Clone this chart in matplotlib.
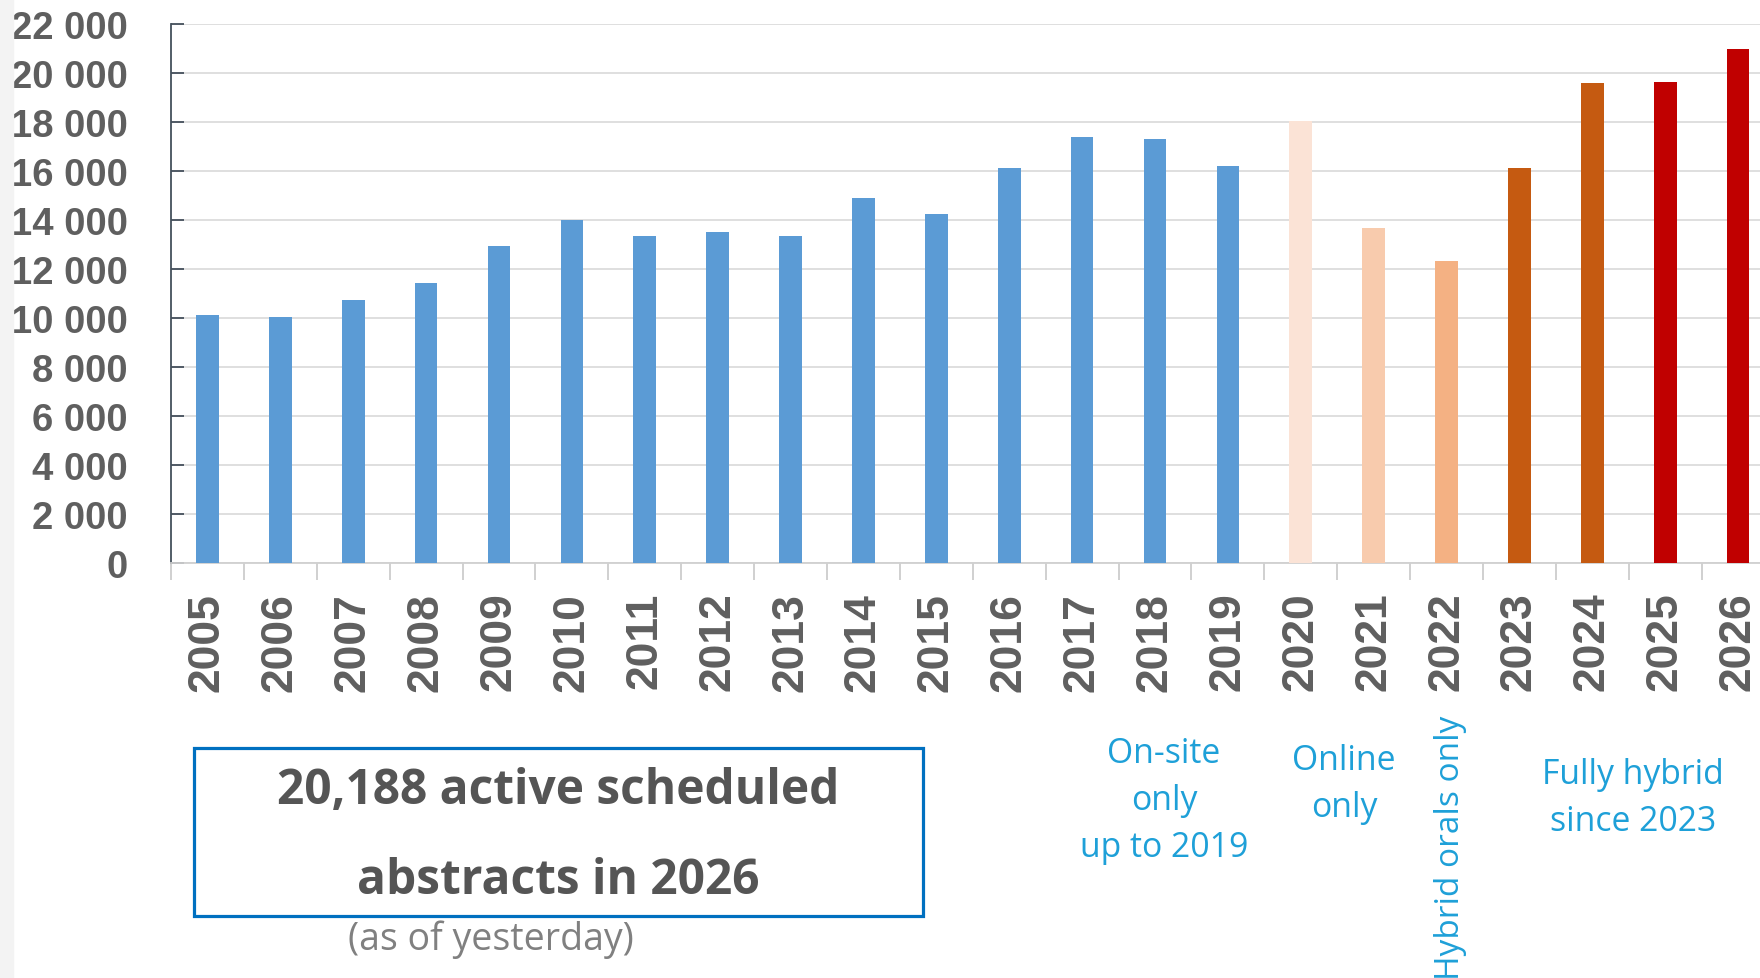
import matplotlib.pyplot as plt
from matplotlib.patches import Rectangle
from matplotlib.ticker import FuncFormatter

years = [str(y) for y in range(2005, 2027)]
abstracts = [10110, 10020, 10700, 11410, 12940, 13990, 13320, 13510, 13320,
             14870, 14220, 16100, 17360, 17280, 16180,
             18020, 13670, 12310, 16090, 19580, 19620, 20950]

# colours per year: on-site (blue), 2020-2022 (peach shades), hybrid (orange, red)
bar_colors = ['#5b9bd5'] * 15 + ['#fbe3d6', '#f8cbad', '#f4b183',
                                 '#c55a11', '#c55a11', '#c00000', '#c00000']

W, H = 1760, 979
fig = plt.figure(figsize=(W / 100, H / 100), dpi=100)
fig.patches.append(Rectangle((0, 0), 13 / W, 1, transform=fig.transFigure,
                             color='#f3f3f3', zorder=0))

ax = fig.add_axes([171 / W, 1 - 563.5 / H, 1 - 171 / W, (563.5 - 24.7) / H])
x = list(range(len(years)))
ax.bar(x, abstracts, width=0.31, color=bar_colors, zorder=3)

ax.set_yticks(range(0, 22001, 2000))
ax.yaxis.set_major_formatter(FuncFormatter(lambda v, p: f'{int(v):,}'.replace(',', ' ')))
ax.set_xticks(x)
ax.set_xticklabels(years)
ax.set_xticks([i - 0.5 for i in range(len(years) + 1)], minor=True)
ax.set_ylim(0, 22000)
ax.set_xlim(-0.5, 21.3)

ax.grid(axis='y', color='#d9d9d9', linewidth=1.2, zorder=0)
ax.set_axisbelow(True)
for s in ['top', 'right']:
    ax.spines[s].set_visible(False)
ax.spines['left'].set_color('#44505c')
ax.spines['left'].set_linewidth(1.3)
ax.spines['bottom'].set_color('#d0d0d0')
ax.spines['bottom'].set_linewidth(1.3)

ax.tick_params(axis='y', direction='in', length=9.5, width=1.3, color='#44505c',
               pad=31, labelsize=27.5, labelcolor='#5f5f5f')
ax.tick_params(axis='x', which='major', length=0, pad=21, labelsize=32,
               labelcolor='#5f5f5f', labelrotation=90)
ax.tick_params(axis='x', which='minor', length=12, width=1.2, color='#c8c8c8')
for lab in ax.get_yticklabels() + ax.get_xticklabels():
    lab.set_fontfamily('Liberation Sans')
    lab.set_fontweight('bold')

blue_txt = '#1ea0d8'
fig.text(1164 / W, 1 - 801.5 / H, 'On-site\nonly\nup to 2019', ha='center', va='center',
         fontsize=24.3, color=blue_txt, family='Open Sans', linespacing=1.5)
fig.text(1344 / W, 1 - 785 / H, 'Online\nonly', ha='center', va='center',
         fontsize=24.3, color=blue_txt, family='Open Sans', linespacing=1.5)
fig.text(1450 / W, 1 - 848 / H, 'Hybrid orals only', ha='center', va='center',
         rotation=90, fontsize=24, color=blue_txt, family='Open Sans')
fig.text(1633 / W, 1 - 799 / H, 'Fully hybrid\nsince 2023', ha='center', va='center',
         fontsize=24.3, color=blue_txt, family='Open Sans', linespacing=1.5)

fig.patches.append(Rectangle((194 / W, 1 - 917 / H), 729 / W, 168 / H,
                             transform=fig.transFigure, fill=False,
                             edgecolor='#0070c0', linewidth=2.3))
fig.text(558.5 / W, 1 - 791.5 / H, '20,188 active scheduled', ha='center', va='center',
         fontsize=34.5, fontweight='bold', color='#555555', family='Open Sans')
fig.text(558.5 / W, 1 - 881.5 / H, 'abstracts in 2026', ha='center', va='center',
         fontsize=34.5, fontweight='bold', color='#555555', family='Open Sans')
fig.text(490.5 / W, 1 - 940 / H, '(as of yesterday)', ha='center', va='center',
         fontsize=27, color='#808080', family='Open Sans')

fig.savefig('out.png', dpi=100)
